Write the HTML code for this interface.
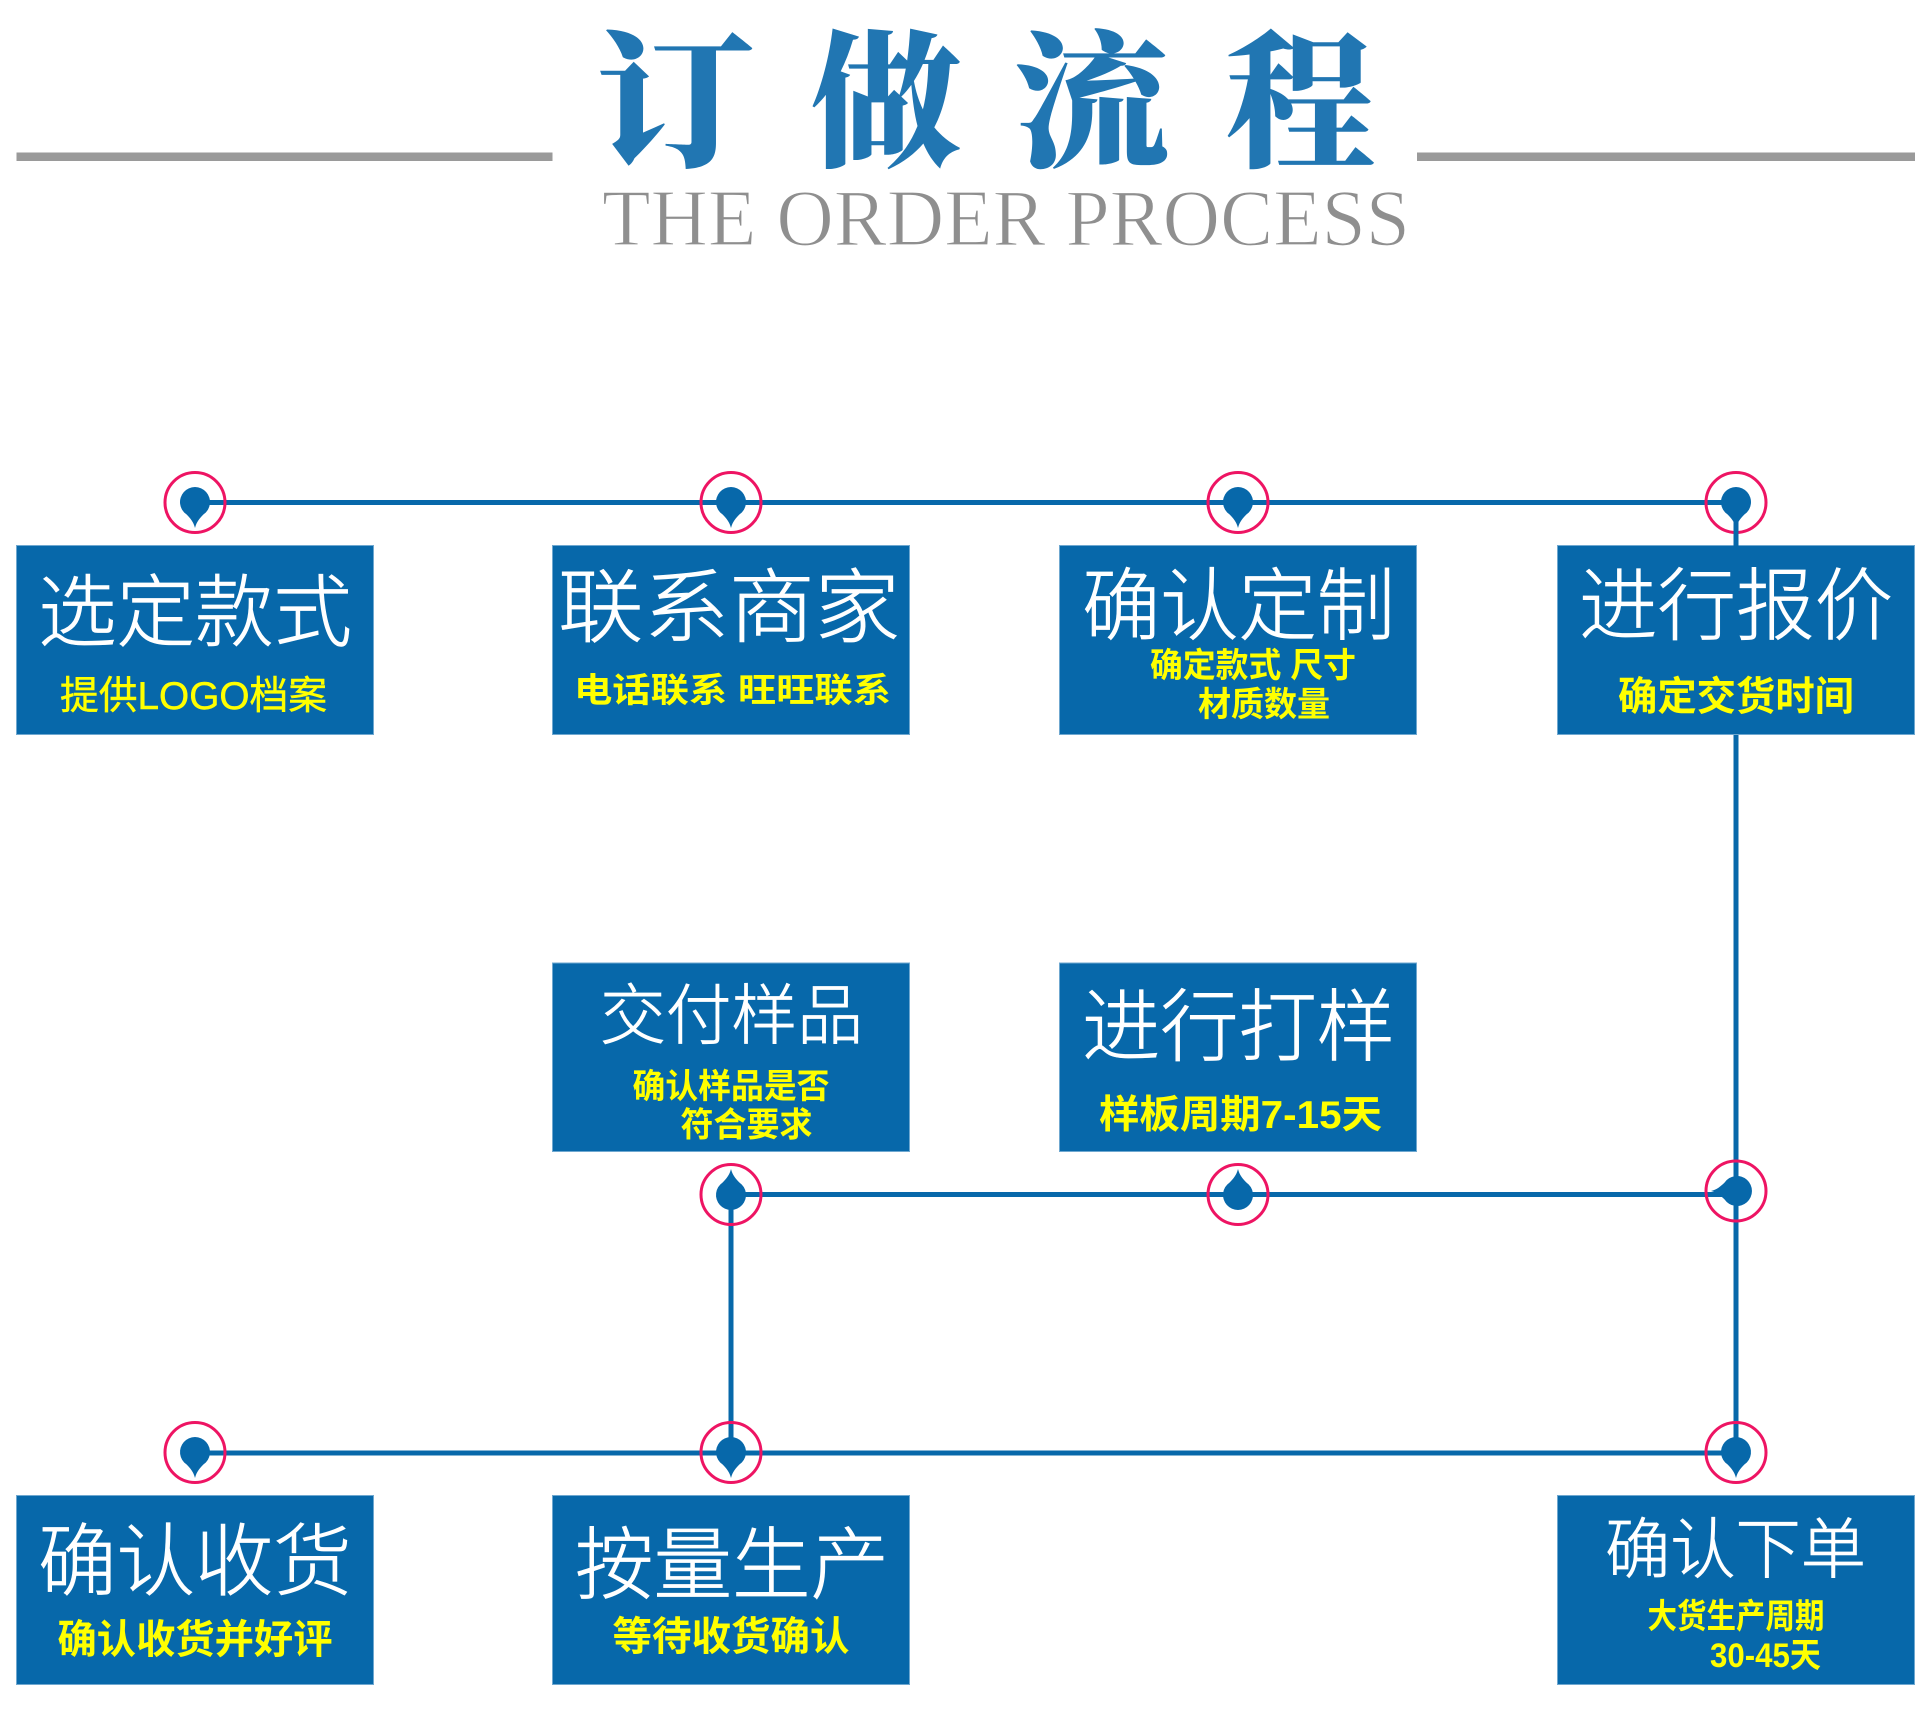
<!DOCTYPE html>
<html lang="zh">
<head>
<meta charset="utf-8">
<title>订做流程</title>
<style>
html,body{margin:0;padding:0;background:#fff;}
svg{display:block;position:absolute;left:0;top:0;}
.t{font-family:"Liberation Sans","Noto Sans CJK SC",sans-serif;font-weight:300;fill:#fff;stroke:#fff;stroke-width:.7px;}
.s{font-family:"Liberation Sans","Noto Sans CJK SC",sans-serif;font-weight:700;fill:#ffff00;}
.h{font-family:"Liberation Serif","Noto Serif CJK SC",serif;font-weight:900;font-size:148px;fill:#2176b2;}
.e{font-family:"Liberation Serif",serif;font-size:81px;fill:#8f8f8f;stroke:#fff;stroke-width:1.3px;}
</style>
</head>
<body>
<svg width="1920" height="1721" viewBox="0 0 1920 1721" xmlns="http://www.w3.org/2000/svg">
<rect width="1920" height="1721" fill="#fff"/>
<rect x="16.5" y="152.5" width="536" height="8.5" fill="#9a9a9a"/>
<rect x="1417" y="152.5" width="498" height="8.5" fill="#9a9a9a"/>
<text class="h" x="595" y="155" textLength="160" lengthAdjust="spacingAndGlyphs">订</text>
<text class="h" x="811" y="155" textLength="150" lengthAdjust="spacingAndGlyphs">做</text>
<text class="h" x="1013" y="155" textLength="157" lengthAdjust="spacingAndGlyphs">流</text>
<text class="h" x="1226" y="155" textLength="149" lengthAdjust="spacingAndGlyphs">程</text>
<text class="e" x="602" y="245" textLength="808" lengthAdjust="spacingAndGlyphs">THE ORDER PROCESS</text>

<g fill="none" stroke="#0768aa" stroke-width="5">
<path d="M195 502.5H1736V1453"/>
<path d="M731 1453V1194.5H1736"/>
<path d="M195 1453H1736"/>
</g>

<g fill="#0768aa" stroke="#6fa8d0" stroke-width="1">
<rect x="16.5" y="545.5" width="357" height="189"/>
<rect x="552.5" y="545.5" width="357" height="189"/>
<rect x="1059.5" y="545.5" width="357" height="189"/>
<rect x="1557.5" y="545.5" width="357" height="189"/>
<rect x="552.5" y="963" width="357" height="188.5"/>
<rect x="1059.5" y="963" width="357" height="188.5"/>
<rect x="16.5" y="1495.5" width="357" height="189"/>
<rect x="552.5" y="1495.5" width="357" height="189"/>
<rect x="1557.5" y="1495.5" width="357" height="189"/>
</g>

<defs>
<path id="pd" d="M0 26 C-1.5 20 -4.5 16.5 -8.5 12.4 A15 15 0 1 1 8.5 12.4 C4.5 16.5 1.5 20 0 26Z" fill="#0768aa"/>
</defs>
<g fill="none" stroke="#ee1463" stroke-width="3">
<circle cx="195" cy="502.5" r="30"/>
<circle cx="731" cy="502.5" r="30"/>
<circle cx="1238" cy="502.5" r="30"/>
<circle cx="1736" cy="502.5" r="30"/>
<circle cx="731" cy="1194.5" r="30"/>
<circle cx="1238" cy="1194.5" r="30"/>
<circle cx="1736" cy="1191" r="30"/>
<circle cx="195" cy="1452.5" r="30"/>
<circle cx="731" cy="1452.5" r="30"/>
<circle cx="1736" cy="1452.5" r="30"/>
</g>
<use href="#pd" x="195" y="502"/>
<use href="#pd" x="731" y="502"/>
<use href="#pd" x="1238" y="502"/>
<use href="#pd" x="1736" y="502"/>
<use href="#pd" transform="translate(731 1195) scale(1 -1)"/>
<use href="#pd" transform="translate(1238 1195) scale(1 -1)"/>
<use href="#pd" transform="translate(1737 1191) rotate(90)"/>
<use href="#pd" x="195" y="1452"/>
<use href="#pd" x="731" y="1452"/>
<use href="#pd" x="1736" y="1452"/>
<rect x="1733.5" y="530" width="5" height="16" fill="#0768aa"/>

<text class="t" x="38" y="640" font-size="79" textLength="314" lengthAdjust="spacingAndGlyphs">选定款式</text>
<text class="s" style="font-weight:400;stroke:#ff0;stroke-width:.5px" x="60" y="709" font-size="39" textLength="267" lengthAdjust="spacingAndGlyphs">提供LOGO档案</text>

<text class="t" x="558" y="636" font-size="81" textLength="342" lengthAdjust="spacingAndGlyphs">联系商家</text>
<text class="s" x="574" y="702" font-size="34" textLength="317" lengthAdjust="spacingAndGlyphs">电话联系 旺旺联系</text>

<text class="t" x="1082" y="633.5" font-size="79" textLength="313" lengthAdjust="spacingAndGlyphs">确认定制</text>
<text class="s" x="1150" y="677" font-size="34" textLength="206" lengthAdjust="spacingAndGlyphs">确定款式 尺寸</text>
<text class="s" x="1198" y="716" font-size="34" textLength="132" lengthAdjust="spacingAndGlyphs">材质数量</text>

<text class="t" x="1579" y="633.5" font-size="79" textLength="314" lengthAdjust="spacingAndGlyphs">进行报价</text>
<text class="s" x="1618" y="710" font-size="40" textLength="236" lengthAdjust="spacingAndGlyphs">确定交货时间</text>

<text class="t" x="600" y="1038.5" font-size="66" textLength="263" lengthAdjust="spacingAndGlyphs">交付样品</text>
<text class="s" x="632.5" y="1098" font-size="34" textLength="197" lengthAdjust="spacingAndGlyphs">确认样品是否</text>
<text class="s" x="680.5" y="1136.5" font-size="34" textLength="132" lengthAdjust="spacingAndGlyphs">符合要求</text>

<text class="t" x="1082" y="1054.5" font-size="79" textLength="313" lengthAdjust="spacingAndGlyphs">进行打样</text>
<text class="s" x="1099" y="1128" font-size="39" textLength="283" lengthAdjust="spacingAndGlyphs">样板周期7-15天</text>

<text class="t" x="38" y="1589" font-size="79" textLength="314" lengthAdjust="spacingAndGlyphs">确认收货</text>
<text class="s" x="57.5" y="1653" font-size="40" textLength="275" lengthAdjust="spacingAndGlyphs">确认收货并好评</text>

<text class="t" x="575" y="1592.5" font-size="79" textLength="314" lengthAdjust="spacingAndGlyphs">按量生产</text>
<text class="s" x="612.5" y="1650" font-size="40" textLength="237" lengthAdjust="spacingAndGlyphs">等待收货确认</text>

<text class="t" x="1605" y="1572.5" font-size="66" textLength="261" lengthAdjust="spacingAndGlyphs">确认下单</text>
<text class="s" x="1647.5" y="1628" font-size="34" textLength="177" lengthAdjust="spacingAndGlyphs">大货生产周期</text>
<text class="s" x="1710" y="1667" font-size="34" textLength="111" lengthAdjust="spacingAndGlyphs">30-45天</text>
</svg>
</body>
</html>
